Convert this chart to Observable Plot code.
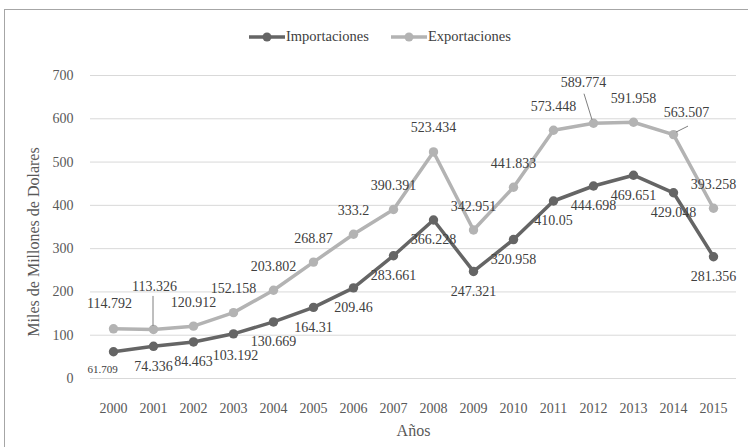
<!DOCTYPE html>
<html>
<head>
<meta charset="utf-8">
<script src="https://cdn.jsdelivr.net/npm/d3@7"></script>
<script src="https://cdn.jsdelivr.net/npm/@observablehq/plot@0.6"></script>
<style>
  html, body { margin: 0; padding: 0; background: #fff; }
  #wrap { position: relative; width: 748px; height: 447px; overflow: hidden; font-family: "Liberation Serif", serif; }
  #frame { position: absolute; left: 4px; top: 9px; width: 800px; height: 500px; border: 1.5px solid #a6a6a6; box-sizing: border-box; }
  #chart { position: absolute; left: 0; top: 0; }
  #chart svg, #chart svg text { font-family: "Liberation Serif", serif; }
  #legend { position: absolute; top: 28px; left: 248px; display: flex; align-items: center; font-size: 14.5px; color: #404040; white-space: nowrap; }
  #legend .item { display: flex; align-items: center; margin-right: 21px; }
  #legend svg { display: block; }
</style>
</head>
<body>
<div id="wrap">
  <div id="frame"></div>
  <div id="chart"></div>
  <div id="legend"></div>
</div>
<script>
// ---- data ----
const years = [2000, 2001, 2002, 2003, 2004, 2005, 2006, 2007, 2008, 2009, 2010, 2011, 2012, 2013, 2014, 2015];
const importaciones = [61.709, 74.336, 84.463, 103.192, 130.669, 164.31, 209.46, 283.661, 366.228, 247.321, 320.958, 410.05, 444.698, 469.651, 429.048, 281.356];
const exportaciones = [114.792, 113.326, 120.912, 152.158, 203.802, 268.87, 333.2, 390.391, 523.434, 342.951, 441.833, 573.448, 589.774, 591.958, 563.507, 393.258];
const seriesNames = ["Importaciones", "Exportaciones"];
const yTicks = [0, 100, 200, 300, 400, 500, 600, 700];
const yTitle = "Miles de Millones de Dolares";
const xTitle = "Años";

// ---- styles ----
const colors = {Importaciones: "#656565", Exportaciones: "#b3b3b3"};
const labelFill = "#404040";
const labelDefault = {Importaciones: [0, 20], Exportaciones: [0, -24]};
const labelNudge = {
  "Importaciones-2000": {dx: -11, dy: 18, fontSize: 11},
  "Importaciones-2003": {dx: 2, dy: 22},
  "Exportaciones-2000": {dx: -4, dy: -25},
  "Exportaciones-2001": {dx: 1, dy: -43},
  "Exportaciones-2012": {dx: -10, dy: -41},
  "Exportaciones-2014": {dx: 13, dy: -22}
};
const leaders = [
  {series: "Exportaciones", year: 2001, from: [0, -33], to: [0, -3]},
  {series: "Exportaciones", year: 2012, from: [-9, -29], to: [-1, -3]},
  {series: "Exportaciones", year: 2014, from: [15, -8], to: [3, -2]}
];

const rows = [];
years.forEach((yr, i) => {
  rows.push({series: "Importaciones", year: yr, value: importaciones[i]});
  rows.push({series: "Exportaciones", year: yr, value: exportaciones[i]});
});
const valueOf = (s, yr) => rows.find(r => r.series === s && r.year === yr).value;

const labelMarks = rows.map(r => {
  const n = labelNudge[r.series + "-" + r.year] || {};
  const [ddx, ddy] = labelDefault[r.series];
  return Plot.text([r], {
    x: "year", y: "value", text: d => String(d.value),
    dx: n.dx ?? ddx, dy: n.dy ?? ddy,
    fill: labelFill, fontSize: n.fontSize ?? 14
  });
});

const leaderMark = (index, scales) => {
  const g = d3.create("svg:g").attr("stroke", "#7f7f7f").attr("stroke-width", 1);
  for (const l of leaders) {
    const px = scales.x(l.year), py = scales.y(valueOf(l.series, l.year));
    g.append("line")
      .attr("x1", px + l.from[0]).attr("y1", py + l.from[1])
      .attr("x2", px + l.to[0]).attr("y2", py + l.to[1]);
  }
  return g.node();
};

const chart = Plot.plot({
  width: 748,
  height: 447,
  marginTop: 75,
  marginBottom: 69,
  marginLeft: 90,
  marginRight: 12,
  style: {fontFamily: '"Liberation Serif", serif', fontSize: "14px", color: "#595959", background: "transparent", overflow: "visible"},
  x: {type: "point", domain: years, padding: 0.5, label: null, tickSize: 0, tickPadding: 25, tickFormat: d => String(d)},
  y: {domain: [0, 700], ticks: yTicks, label: null, tickSize: 0, tickPadding: 17},
  marks: [
    Plot.ruleY(yTicks, {stroke: "#d9d9d9", strokeWidth: 1}),
    ...seriesNames.map(s => Plot.line(rows.filter(r => r.series === s), {x: "year", y: "value", stroke: colors[s], strokeWidth: 3.5})),
    ...seriesNames.map(s => Plot.dot(rows.filter(r => r.series === s), {x: "year", y: "value", fill: colors[s], r: 4.7})),
    leaderMark,
    ...labelMarks,
    Plot.text([yTitle], {frameAnchor: "left", text: d => d, rotate: -90, textAnchor: "middle", lineAnchor: "middle", dx: -57, dy: 15, fontSize: 16, fill: "#595959"}),
    Plot.text([xTitle], {frameAnchor: "bottom", text: d => d, textAnchor: "middle", lineAnchor: "middle", dy: 52, fontSize: 16, fill: "#595959"})
  ]
});
document.getElementById("chart").appendChild(chart);

// legend
const legend = d3.select("#legend");
seriesNames.forEach(s => {
  const item = legend.append("div").attr("class", "item");
  const sw = item.append("svg").attr("width", 38).attr("height", 12);
  sw.append("line").attr("x1", 1).attr("x2", 37).attr("y1", 6).attr("y2", 6).attr("stroke", colors[s]).attr("stroke-width", 3.5);
  sw.append("circle").attr("cx", 19).attr("cy", 6).attr("r", 4.5).attr("fill", colors[s]);
  item.append("span").text(s);
});
</script>
</body>
</html>
